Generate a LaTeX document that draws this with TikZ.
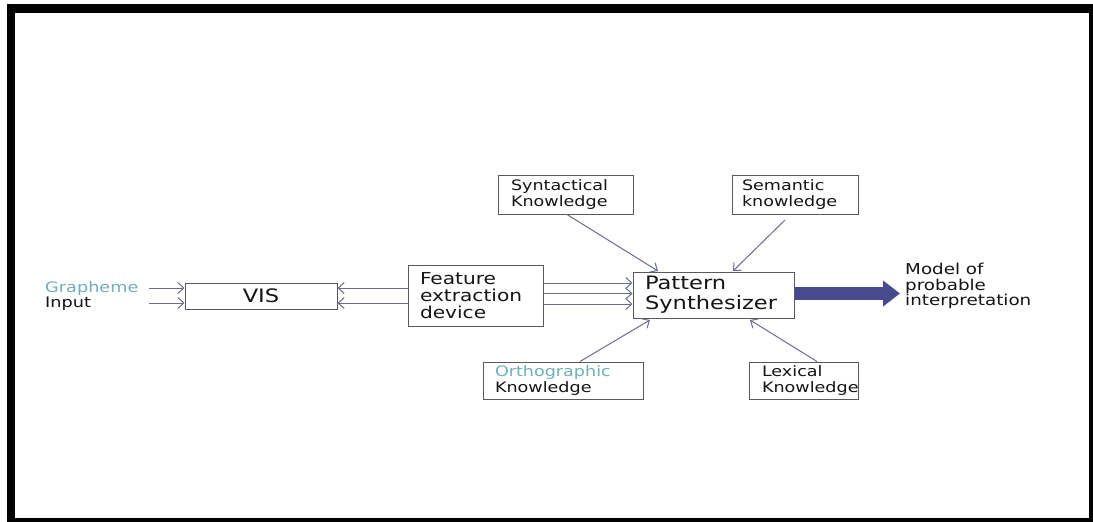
\documentclass[tikz,border=0pt]{standalone}
\usepackage{fontspec}
\newfontfamily\vf{DejaVu Sans}[FakeStretch=1.22]
\usetikzlibrary{arrows.meta,calc}
\definecolor{teal1}{HTML}{6FB0B6}
\definecolor{arrc}{HTML}{6C6C8E}
\definecolor{boxc}{HTML}{5A5A5A}
\definecolor{bigc}{HTML}{474A8C}
\definecolor{txt}{HTML}{151515}
\tikzset{
  box/.style={draw=boxc, line width=1pt, inner sep=0pt, text=txt, font=\vf\fontsize{14.4}{16}\selectfont, align=left, anchor=center},
  bigbox/.style={box, font=\vf\fontsize{18.5}{20}\selectfont},
  lab/.style={inner sep=0pt, text=txt, font=\vf\fontsize{14.5}{15.5}\selectfont, align=left},
  arr/.style={draw=arrc, line width=1pt, -{Straight Barb[length=6pt,width=11pt,line width=1pt]}},
}
\begin{document}
\begin{tikzpicture}[x=1pt,y=-1pt]
\useasboundingbox (0,0) rectangle (1093,522);
\fill[white] (0,0) rectangle (1093,522);
% frame
\fill[black] (7,4) rectangle (1093,13);
\fill[black] (7,4) rectangle (15,522);
\fill[black] (1089,4) rectangle (1093,522);
\fill[black] (7,518) rectangle (1093,522);

% boxes
\node[bigbox, minimum width=152pt, minimum height=26pt, align=center] (vis) at (261,296) {VIS};
\node[box, minimum width=135pt, minimum height=61pt, text width=111pt, font=\vf\fontsize{16.5}{17}\selectfont] (feat) at (475.5,295.5) {Feature\\extraction\\device};
\node[bigbox, minimum width=161pt, minimum height=46pt, text width=137pt] (pat) at (713.5,295) {Pattern\\Synthesizer};
\node[box, minimum width=135pt, minimum height=39pt, text width=109pt] (syn) at (565.5,194.5) {Syntactical\\Knowledge};
\node[box, minimum width=126pt, minimum height=39pt, text width=106pt] (sem) at (795,194.5) {Semantic\\knowledge};
\node[box, minimum width=160pt, minimum height=37pt, text width=136pt] (ort) at (563,380.5) {{\color{teal1}Orthographic}\\Knowledge};
\node[box, minimum width=109pt, minimum height=37pt, text width=83pt] (lex) at (803.5,380.5) {Lexical\\Knowledge};

% labels
\node[lab, anchor=west] (gin) at (45,296) {{\color{teal1}Grapheme}\\Input};
\node[lab, anchor=west, font=\vf\fontsize{15}{15.5}\selectfont] (model) at (905,286) {Model of\\probable\\interpretation};

% input arrows
\coordinate (g1) at (149,288);
\coordinate (g2) at (149,303);
\draw[arr] (g1) -- (vis.west |- g1);
\draw[arr] (g2) -- (vis.west |- g2);
% feature -> VIS
\draw[arr] (feat.west |- g1) -- (vis.east |- g1);
\draw[arr] (feat.west |- g2) -- (vis.east |- g2);
% feature -> pattern
\draw[arr] (feat.east |- 0,283) -- (pat.west |- 0,283);
\draw[arr] (feat.east |- 0,293.5) -- (pat.west |- 0,293.5);
\draw[arr] (feat.east |- 0,304) -- (pat.west |- 0,304);
% knowledge arrows
\draw[arr] (syn.south -| 567,0) -- (658,271);
\draw[arr] (785,220) -- (733,271);
\draw[arr] (ort.north -| 580,0) -- (650,320);
\draw[arr] (lex.north -| 817,0) -- (750,320);
% big arrow
\coordinate (tip) at (900,293.5);
\draw[bigc, line width=13pt, -{Triangle[length=17pt,width=25pt]}] (pat.east |- tip) -- (tip);
\end{tikzpicture}
\end{document}
